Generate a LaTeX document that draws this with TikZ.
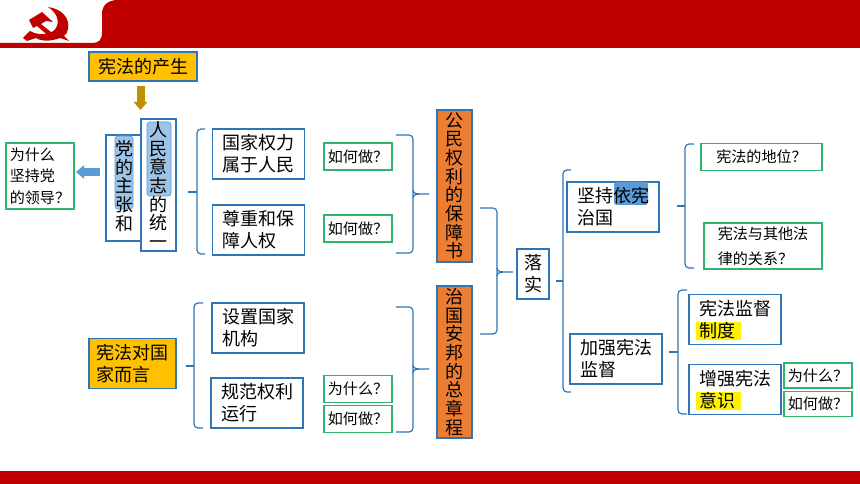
\documentclass[tikz,border=0pt]{standalone}
\usepackage{fontspec}
\setmainfont{Noto Sans CJK SC}
\usetikzlibrary{arrows.meta,calc}
\definecolor{dangred}{RGB}{192,0,0}
\definecolor{boxblue}{RGB}{46,117,182}
\definecolor{boxgreen}{RGB}{46,180,110}
\definecolor{hlblue}{RGB}{157,195,230}
\definecolor{hldark}{RGB}{91,155,213}
\definecolor{goldfill}{RGB}{255,192,0}
\definecolor{orangefill}{RGB}{237,125,49}
\definecolor{arrowgold}{RGB}{191,144,0}
\tikzset{
    block/.style = {draw=boxblue, rectangle, line width=1.1pt, fill=white,
        minimum height=37.5pt,
        minimum width=69pt, inner sep=0pt, align=left, font=\fontsize{13.5}{16.5}\selectfont},
    ask/.style = {block, draw=boxgreen, minimum height=20pt, minimum width=51pt, font=\fontsize{11.3}{16.5}\selectfont},
    column/.style = {block, minimum width=26pt, align=center, font=\fontsize{13.5}{14}\selectfont},
    brk/.style = {draw=boxblue, line width=0.9pt, rounded corners=3pt},
    tip/.style = {draw=boxblue, line width=0.9pt},
    fatarrow/.style = {line width=6pt, -{Triangle[width=10pt,length=6pt]}}
}
% left bracket: end x, spine x, tip x, top y, middle y, bottom y
\def\lbrk#1#2#3#4#5#6{%
    \draw [brk] (#1,#4) -- (#2,#4) -- (#2,#6) -- (#1,#6);
    \draw [tip] (#2,#5) -- (#3,#5);
}
% right bracket, the tip flares a little
\def\rbrk#1#2#3#4#5#6{%
    \draw [brk] (#1,#4) -- (#2,#4) -- (#2,#6) -- (#1,#6);
    \draw [tip] (#2,#5-4) .. controls (#2+1,#5) .. (#3,#5) .. controls (#2+1,#5) .. (#2,#5+4);
}
\begin{document}
\begin{tikzpicture}[x=0.75pt,y=-0.75pt]
    \useasboundingbox (0,0) rectangle (860,484);
    % head and foot bands
    \fill [dangred] (0,43) -- (92,43) .. controls (99,43) and (102,40) .. (102,32) -- (102,14)
        .. controls (102,5) and (108,0) .. (118,0) -- (860,0) -- (860,48) -- (0,48) -- cycle;
    \fill [dangred] (0,471) rectangle (860,484);
    % sign
    \fill [dangred] (48,7) .. controls (62,9) and (70,18) .. (68,29) .. controls (67,33) and (66,35) .. (64,36)
        -- (69,41) -- (63,39) -- (60,38) .. controls (50,42) and (40,41) .. (36,38)
        -- (27,41) -- (23,38) -- (30,31) .. controls (38,36) and (52,35) .. (56,28)
        .. controls (60,21) and (57,13) .. (48,7) -- cycle;
    \fill [dangred] (29,20) -- (42,12) -- (53,22) -- (46,21) -- (41,24) -- (56,36) -- (52,39) -- (37,26) -- (33,28) -- cycle;
    % left part
    \node [block, fill=goldfill, minimum width=81pt, minimum height=21.5pt] (origin) at (143,66.5) {宪法的产生};
    \node [block, minimum width=26pt, minimum height=79.5pt] (party) at (123.5,188) {};
    \node [block, minimum width=26pt, minimum height=99pt] (people) at (158.5,185) {};
    \fill [hlblue, draw=hldark, rounded corners=2pt] (115,136) rectangle (133,209);
    \fill [hlblue, draw=hldark, rounded corners=2pt] (147,122) rectangle (171,196);
    \node [align=center, inner sep=0pt, font=\fontsize{13.5}{14}\selectfont] (partytext) at (124,186) {党\\的\\主\\张\\和};
    \node [align=center, inner sep=0pt, font=\fontsize{13.5}{14}\selectfont] (peopletext) at (158.5,185) {人\\民\\意\\志\\的\\统\\一};
    \node [ask, minimum width=51pt, minimum height=49.5pt, font=\fontsize{11.3}{16}\selectfont] (why) at (40,176) {为什么\\坚持党\\的领导？};
    \coordinate (arrowa) at (140.5,86);
    \coordinate (arrowb) at (140.5,110);
    \draw [fatarrow, draw=arrowgold] (arrowa) -- (arrowb);
    \coordinate (arrowc) at (100,172);
    \coordinate (arrowd) at (76,172);
    \draw [fatarrow, draw=hldark] (arrowc) -- (arrowd);
    \node [block] (power) at (258.5,154) {国家权力\\属于人民};
    \node [block] (rights) at (258.5,230) {尊重和保\\障人权};
    \node [block, fill=goldfill, minimum width=65pt] (state) at (132.5,363.5) {宪法对国\\家而言};
    \node [block] (organ) at (258,328) {设置国家\\机构};
    \node [block] (norm) at (257,403) {规范权利\\运行};
    \lbrk{205}{197}{188}{129}{192}{254}
    \lbrk{203}{194}{186}{303}{366}{428}
    % how and why
    \node [ask] (hoa) at (358,156.5) {如何做？};
    \node [ask] (hob) at (358,228.5) {如何做？};
    \node [ask] (wha) at (358,389) {为什么？};
    \node [ask] (hoc) at (358,419) {如何做？};
    \rbrk{396}{413}{429}{135}{194}{253}
    \rbrk{396}{413}{429}{307}{369}{432}
    % middle columns
    \node [column, fill=orangefill, minimum height=114pt] (charter) at (454.5,186) {公\\民\\权\\利\\的\\保\\障\\书};
    \node [column, fill=orangefill, minimum height=114pt] (statute) at (454.5,362) {治\\国\\安\\邦\\的\\总\\章\\程};
    \rbrk{480}{497}{513}{208}{272}{334}
    \node [block, minimum width=24pt, align=center] (apply) at (533,274) {落\\实};
    \lbrk{571}{563}{556}{170}{281}{392}
    % right part
    \node [block] (rule) at (613,207) {};
    \fill [hldark, rounded corners=2pt] (614,182) rectangle (648,205);
    \node [inner sep=0pt, align=left, font=\fontsize{13.5}{16.5}\selectfont] (ruletext) at (613,207) {坚持依宪\\治国};
    \node [block] (watch) at (616,359) {加强宪法\\监督};
    \lbrk{694}{685}{677}{144}{206}{268}
    \lbrk{687}{678}{669}{290}{352}{414}
    \node [ask, minimum width=91pt] (rank) at (761.5,157) {宪法的地位？};
    \node [ask, minimum width=88.5pt, minimum height=34.5pt, font=\fontsize{11.3}{19}\selectfont] (relate) at (763,246) {宪法与其他法\\律的关系？};
    \node [block] (system) at (735,319.5) {};
    \node [block] (sense) at (735,389.5) {};
    \fill [yellow] (696,322) rectangle (741,340);
    \fill [yellow] (696,392) rectangle (741,410);
    \node [inner sep=0pt, align=left, font=\fontsize{13.5}{16.5}\selectfont] (systemtext) at (735,319.5) {宪法监督\\制度\phantom{监督}};
    \node [inner sep=0pt, align=left, font=\fontsize{13.5}{16.5}\selectfont] (sensetext) at (735,389.5) {增强宪法\\意识\phantom{宪法}};
    \node [ask, minimum height=19pt] (whb) at (818,375.5) {为什么？};
    \node [ask, minimum height=19pt] (hod) at (818,404) {如何做？};
\end{tikzpicture}
\end{document}
